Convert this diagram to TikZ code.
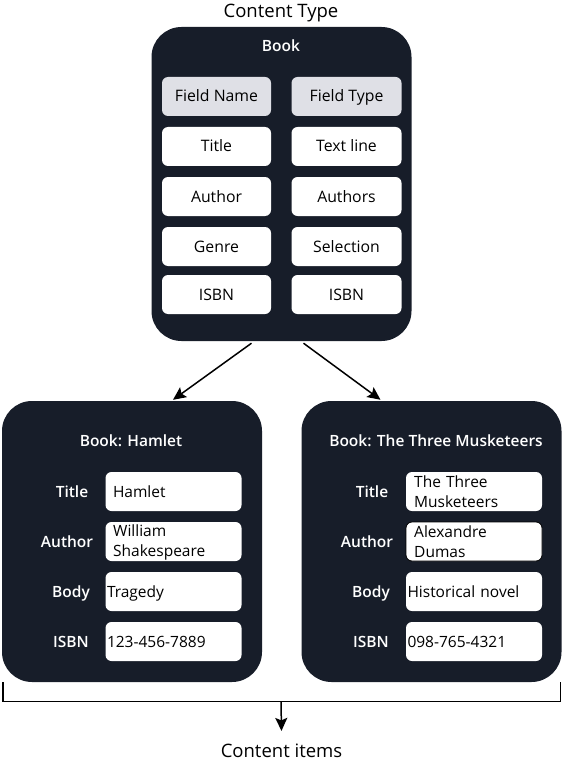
\documentclass[tikz,border=0pt]{standalone}
\usepackage{fontspec}
\setmainfont{Open Sans}
\IfFontExistsTF{Open Sans SemiBold}{\newfontfamily\semib{Open Sans SemiBold}}{%
  \IfFontExistsTF{Open Sans Semibold}{\newfontfamily\semib{Open Sans Semibold}}{\newcommand\semib{\bfseries}}}
\usetikzlibrary{arrows.meta}
\definecolor{dark}{RGB}{23,29,41}
\definecolor{hdr}{RGB}{223,224,230}
\begin{document}
\begin{tikzpicture}[x=1pt,y=-1pt,
  panel/.style={fill=dark, rounded corners=30pt, inner sep=0pt},
  fix/.style={text height=12.5pt, text depth=1.5pt},
  cell/.style={fill=white, rounded corners=6pt, minimum width=109pt, minimum height=39pt, inner sep=0pt, fix, font=\fontsize{15.8}{19.5}\selectfont},
  hcell/.style={cell, fill=hdr},
  val/.style={fill=white, rounded corners=6pt, minimum height=39pt, inner ysep=0pt, inner xsep=7.5pt, text width=121pt, align=left, fix, font=\fontsize{15.5}{19.5}\selectfont},
  valt/.style={val, inner xsep=1.5pt, text width=133pt},
  vbox/.style={fill=white, rounded corners=6pt, minimum width=136pt, minimum height=39pt, inner sep=0pt},
  vtxt/.style={anchor=base west, inner sep=0pt, text width=126pt, align=left, font=\fontsize{15.5}{19.5}\selectfont},
  lbl/.style={text=white, fix, font=\fontsize{15.5}{19.5}\selectfont\semib},
  ttl/.style={text=white, anchor=base, font=\fontsize{15.5}{19.5}\selectfont\semib},
  outer/.style={anchor=base, font=\fontsize{18.5}{22}\selectfont},
  arr/.style={line width=1.5pt, -{Stealth[length=13pt,width=12pt,inset=2.5pt]}},
  ln/.style={line width=1.5pt}
]
\useasboundingbox (0,0) rectangle (562,762);
% top panel
\node[panel, minimum width=260pt, minimum height=314pt] (ct) at (281.5,184) {};
\node[outer] (cttitle) at (281,17.5) {Content Type};
\node[ttl] (book) at (281,51.7) {Book};
\node[hcell] (fn) at (216.5,96.5) {Field Name};
\node[hcell, minimum width=110pt] (ft) at (346.5,96.5) {Field Type};
\node[cell] (n1) at (216.5,146.5) {Title};
\node[cell, minimum width=110pt] (t1) at (346.5,146.5) {Text line};
\node[cell] (n2) at (216.5,196.5) {Author};
\node[cell, minimum width=110pt] (t2) at (346.5,196.5) {Authors};
\node[cell] (n3) at (216.5,246.5) {Genre};
\node[cell, minimum width=110pt] (t3) at (346.5,246.5) {Selection};
\node[cell] (n4) at (216.5,294.5) {ISBN};
\node[cell, minimum width=110pt] (t4) at (346.5,294.5) {ISBN};
% left panel
\node[panel, minimum width=260pt, minimum height=281pt] (ham) at (132,541.5) {};
\node[ttl] (hamt) at (131,446.7) {Book: Hamlet};
\node[lbl] (hl1) at (72,491.5) {Title};
\node[lbl] (hl2) at (67,541.5) {Author};
\node[lbl] (hl3) at (71,591.5) {Body};
\node[lbl] (hl4) at (71,641.5) {ISBN};
\node[val] (hv1) at (173.5,491.5) {Hamlet};
\node[vbox] (hv2) at (173.5,541.5) {};
\node[vtxt] (hv2t) at (113,536.7) {William\\Shakespeare};
\node[valt] (hv3) at (173.5,591.5) {Tragedy};
\node[valt] (hv4) at (173.5,641.5) {123-456-7889};
% right panel
\node[panel, minimum width=260pt, minimum height=281pt] (mus) at (431.5,541.5) {};
\node[ttl] (must) at (436,446.7) {Book: The Three Musketeers};
\node[lbl] (ml1) at (372,491.5) {Title};
\node[lbl] (ml2) at (367,541.5) {Author};
\node[lbl] (ml3) at (371,591.5) {Body};
\node[lbl] (ml4) at (371,641.5) {ISBN};
\node[vbox] (mv1) at (474,491.5) {};
\node[vtxt] (mv1t) at (414,487.7) {The Three\\Musketeers};
\node[vbox, draw=black, line width=0.8pt] (mv2) at (474,541.5) {};
\node[vtxt] (mv2t) at (414,537.7) {Alexandre\\Dumas};
\node[valt] (mv3) at (474,591.5) {Historical novel};
\node[valt] (mv4) at (474,641.5) {098-765-4321};
% arrows
\draw[arr] ([xshift=-30pt,yshift=-2pt]ct.south) -- ([xshift=41pt,yshift=1pt]ham.north);
\draw[arr] ([xshift=22pt,yshift=-2pt]ct.south) -- ([xshift=-51pt,yshift=1pt]mus.north);
% bracket
\node[outer] (items) at (281.5,757) {Content items};
\coordinate (br) at (281,701.5);
\draw[ln] ([xshift=1pt]ham.south west) -- ++(0,19.5) -| ([xshift=-1pt]mus.south east);
\draw[arr] (br) -- ([yshift=9pt]items.north);
\end{tikzpicture}
\end{document}
